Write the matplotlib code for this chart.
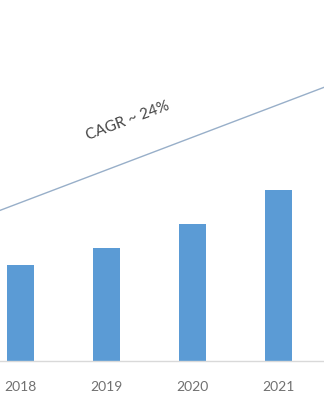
import matplotlib
matplotlib.use("Agg")
import matplotlib.pyplot as plt

years = ["2018", "2019", "2020", "2021"]
values = [9.6, 11.3, 13.7, 17.1]
# trend line read at the 2018 and 2021 positions
trend_years = [0, 3]
trend_values = [15.8, 25.6]
cagr_label = "CAGR ~ 24%"

BAR = "#5b9bd5"
TREND = "#98afc9"

plt.rcParams["font.family"] = ["Lato", "DejaVu Sans"]

fig = plt.figure(figsize=(3.24, 4.05), dpi=100)
ax = fig.add_axes((0, 0.1096, 1, 0.8904))

x = range(len(years))
ax.bar(x, values, width=0.314, color=BAR, zorder=2)
ax.axline((trend_years[0], trend_values[0]), (trend_years[1], trend_values[1]),
          color=TREND, lw=1.0, zorder=1)
ax.text(1.25, 23.96, cagr_label, rotation=20.5, rotation_mode="anchor",
        ha="center", va="center", fontsize=11, color="#454545")

ax.set_xlim(-0.238, 3.529)
ax.set_ylim(0, 36.06)
ax.set_xticks(list(x))
ax.set_xticklabels(years, fontsize=10, color="#707070")
ax.tick_params(axis="x", length=0, pad=15)
ax.set_yticks([])
for side in ("top", "right", "left"):
    ax.spines[side].set_visible(False)
ax.spines["bottom"].set_color("#d9d9d9")
ax.spines["bottom"].set_linewidth(1.0)

fig.savefig("out.png", dpi=100)
